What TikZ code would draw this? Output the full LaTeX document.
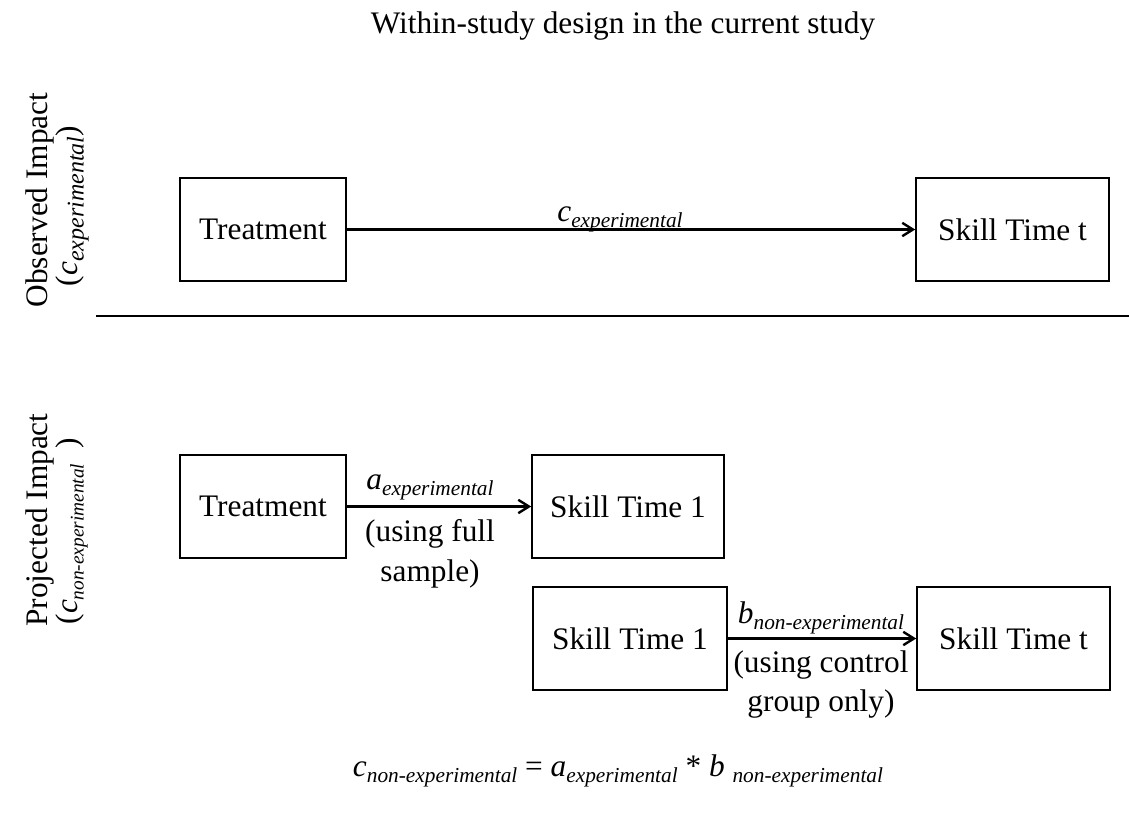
\documentclass[tikz,border=0pt]{standalone}
\usepackage{fontspec}
\setmainfont{Liberation Serif}
\usetikzlibrary{arrows.meta}
\newcommand{\sbs}[3][16]{\textit{#2}\raisebox{-5pt}{\fontsize{#1}{18}\selectfont\itshape #3}}

\begin{document}
\begin{tikzpicture}[x=0.75pt,y=0.75pt,yscale=-1,xscale=1,
  every node/.style={font=\fontsize{23.5}{28}\selectfont},
  box/.style={draw, line width=1.2pt, minimum height=77.25pt, inner sep=0pt},
  link/.style={line width=1.8pt, -{Straight Barb[length=8pt,width=10pt]}},
  lbl/.style={anchor=base, inner sep=0.75pt}]
\useasboundingbox (0,0) rectangle (1129,815);

% Text Node
\node[lbl] (title) at (623,33) {Within-study design in the current study};

% Text Node
\node[lbl,rotate=90] (obs) at (47,200) {Observed Impact};
% Text Node
\node[lbl,rotate=90] (obsc) at (77,206) {(\sbs[18]{c}{experimental})};
% Text Node
\node[lbl,rotate=90] (proj) at (47,520) {Projected Impact};
% Text Node
\node[lbl,rotate=90] (projc) at (77,531) {(\sbs[14.5]{c}{non-experimental}\ \ )};

%Straight Lines
\draw[line width=1.2pt] (96,316) -- (1129,316);

%Shape: Rectangle
\node[box, minimum width=124.5pt] (trtA) at (263,229.5) {Treatment};
%Shape: Rectangle
\node[box, minimum width=144.75pt] (skltA) at (1012.5,229.5) {Skill Time t};
%Shape: Rectangle
\node[box, minimum width=124.5pt] (trtB) at (263,506.5) {Treatment};
%Shape: Rectangle
\node[box, minimum width=144pt] (skloneB) at (628,506.5) {Skill Time 1};
%Shape: Rectangle
\node[box, minimum width=145.5pt] (skloneC) at (630,638.5) {Skill Time 1};
%Shape: Rectangle
\node[box, minimum width=144.75pt] (skltC) at (1013.5,638.5) {Skill Time t};

%Straight Lines
\draw[link] (trtA) -- (skltA);
%Straight Lines
\draw[link] (trtB) -- (skloneB);
%Straight Lines
\draw[link] (skloneC) -- (skltC);

% Text Node
\node[lbl] (cexp) at (620,221) {\sbs{c}{experimental}};
% Text Node
\node[lbl] (aexp) at (430,489) {\sbs{a}{experimental}};
% Text Node
\node[lbl] (afull) at (430,541) {(using full};
% Text Node
\node[lbl] (asample) at (430,581) {sample)};
% Text Node
\node[lbl] (bnon) at (821,623) {\sbs{b}{non-experimental}};
% Text Node
\node[lbl] (bcontrol) at (821,672) {(using control};
% Text Node
\node[lbl] (bgroup) at (821,711) {group only)};

% Text Node
\node[lbl] (formula) at (618,776) {\sbs{c}{non-experimental} = \sbs{a}{experimental} * \textit{b}\ \raisebox{-5pt}{\fontsize{16}{18}\selectfont\itshape non-experimental}};

\end{tikzpicture}
\end{document}
